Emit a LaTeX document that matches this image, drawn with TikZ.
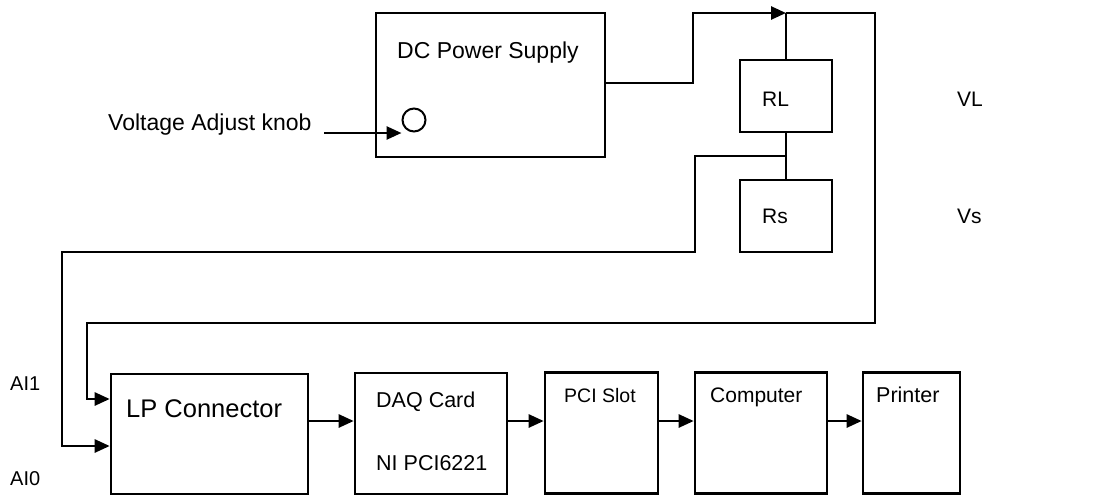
\documentclass[tikz,border=0pt]{standalone}
\usepackage{fontspec}
\setmainfont{Liberation Sans}
\usetikzlibrary{arrows.meta}
\newcommand{\fsz}[1]{\fontsize{#1}{#1}\selectfont}
\begin{document}
\begin{tikzpicture}[x=1pt,y=-1pt,
  box/.style={draw,line width=2.6pt,inner sep=0pt},
  wire/.style={line width=2.6pt,line join=miter},
  arr/.style={wire,-{Triangle[length=15pt,width=13pt]}},
  lbl/.style={inner sep=0pt,anchor=base west,font=\fsz{21}}]
\useasboundingbox[fill=white] (0,0) rectangle (1115,498);
% boxes
\node[box,minimum width=229pt,minimum height=144pt] (dc) at (490.5,85) {};
\node[box,minimum width=92pt,minimum height=72pt] (rl) at (786,96) {};
\node[box,minimum width=92pt,minimum height=72pt] (rs) at (786,216) {};
\node[box,minimum width=197pt,minimum height=120pt] (lp) at (209.5,434) {};
\node[box,minimum width=152pt,minimum height=121pt] (daq) at (431,433.5) {};
\node[box,minimum width=113pt,minimum height=121pt] (pci) at (601.5,433) {};
\node[box,minimum width=132pt,minimum height=121pt] (comp) at (761,433) {};
\node[box,minimum width=97pt,minimum height=121pt] (prn) at (911.5,433) {};
\node[circle,draw,line width=2pt,minimum size=23pt,inner sep=0pt] (knob) at (414,120) {};
% texts
\node[lbl,font=\fsz{23}] (tdc) at (397,58) {DC Power Supply};
\node[lbl,font=\fsz{23}] (tknob) at (108,130) {Voltage Adjust knob};
\node[lbl] (trl) at (762,106) {RL};
\node[lbl] (trs) at (762,223) {Rs};
\node[lbl] (tvl) at (957,106) {VL};
\node[lbl] (tvs) at (957,223) {Vs};
\node[lbl,font=\fsz{20}] (tai1) at (10,390) {AI1};
\node[lbl,font=\fsz{20}] (tai0) at (10,485) {AI0};
\node[lbl,font=\fsz{25.5}] (tlp) at (126,417) {LP Connector};
\node[lbl,font=\fsz{21.5}] (tdaq1) at (376,407) {DAQ Card};
\node[lbl,font=\fsz{21.5}] (tdaq2) at (376,470) {NI PCI6221};
\node[lbl,font=\fsz{19.5}] (tpci) at (564,402) {PCI Slot};
\node[lbl] (tcomp) at (710,402) {Computer};
\node[lbl,font=\fsz{21.5}] (tprn) at (876,402) {Printer};
% coordinates
\coordinate (j1) at (786,13);
\coordinate (j2) at (786,156);
\coordinate (ks) at (324,133);
\coordinate (ai1) at (87,399);
\coordinate (ai0) at (62,446);
% connectors
\draw[arr] (ks) -- (ks -| knob.west);
\draw[arr] ([yshift=2pt]dc.east) -- (693,83) -- (693,13) -- (j1);
\draw[wire] (rl.north) -- (j1);
\draw[arr] (j1) -- (875,13) -- (875,323) -- (87,323) -- (ai1) -- (ai1 -| lp.west);
\draw[wire] (rl.south) -- (rs.north);
\draw[arr] (j2) -- (695,156) -- (695,252) -- (62,252) -- (ai0) -- (ai0 -| lp.west);
\draw[arr] ([yshift=13pt]lp.east) -- ([yshift=13pt]lp.east -| daq.west);
\draw[arr] ([yshift=12.5pt]daq.east) -- ([yshift=12.5pt]daq.east -| pci.west);
\draw[arr] ([yshift=12pt]pci.east) -- ([yshift=12pt]pci.east -| comp.west);
\draw[arr] ([yshift=12pt]comp.east) -- ([yshift=12pt]comp.east -| prn.west);
\end{tikzpicture}
\end{document}
